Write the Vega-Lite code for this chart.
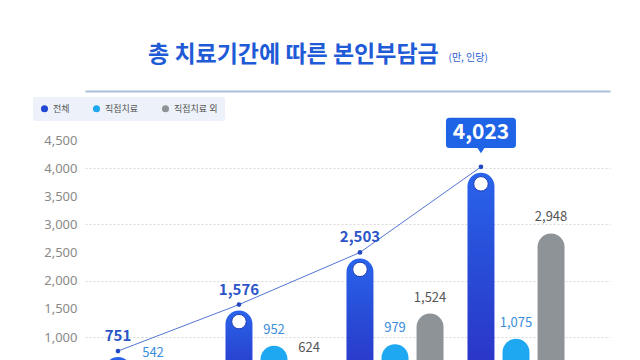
{
  "$schema": "https://vega.github.io/schema/vega-lite/v6.json",
  "autosize": {"type": "none"},
  "padding": {"left": 85, "right": 30, "top": 130, "bottom": 0},
  "width": 525,
  "height": 230,
  "background": "white",
  "title": {
    "text": "총 치료기간에 따른 본인부담금",
    "font": "Noto Sans CJK KR",
    "fontSize": 23,
    "fontWeight": "bold",
    "color": "#1f5bd6",
    "anchor": "start",
    "frame": "group",
    "dx": 63,
    "offset": -15
  },
  "config": {
    "view": {"stroke": null},
    "font": "Noto Sans CJK KR"
  },
  "data": {
    "values": [
      {"group": "1개월 이하", "series": "전체", "value": 751},
      {"group": "1개월 이하", "series": "직접치료", "value": 542},
      {"group": "1개월 이하", "series": "직접치료 외", "value": 209},
      {"group": "1~3개월", "series": "전체", "value": 1576},
      {"group": "1~3개월", "series": "직접치료", "value": 952},
      {"group": "1~3개월", "series": "직접치료 외", "value": 624},
      {"group": "3~6개월", "series": "전체", "value": 2503},
      {"group": "3~6개월", "series": "직접치료", "value": 979},
      {"group": "3~6개월", "series": "직접치료 외", "value": 1524},
      {"group": "6개월 초과", "series": "전체", "value": 4023},
      {"group": "6개월 초과", "series": "직접치료", "value": 1075},
      {"group": "6개월 초과", "series": "직접치료 외", "value": 2948}
    ]
  },
  "encoding": {
    "x": {
      "field": "group",
      "type": "nominal",
      "sort": null,
      "scale": {"paddingInner": 0.198, "paddingOuter": 0.2685, "align": 0.3},
      "axis": {
        "orient": "top",
        "labels": false,
        "ticks": false,
        "title": null,
        "grid": false,
        "domain": true,
        "domainColor": "#a9bfe0",
        "domainWidth": 2,
        "offset": 39
      }
    },
    "xOffset": {
      "field": "series",
      "type": "nominal",
      "scale": {"domain": ["전체", "직접치료", "직접치료 외"], "paddingInner": 0.23, "paddingOuter": 0}
    },
    "y": {
      "field": "value",
      "type": "quantitative",
      "scale": {"domain": [592, 4678], "nice": false, "zero": false},
      "axis": {
        "values": [1000, 1500, 2000, 2500, 3000, 3500, 4000, 4500],
        "labelExpr": "format(datum.value, ',.0f')",
        "labelColor": "#8a8a8a",
        "labelFontSize": 13,
        "labelFont": "Noto Sans",
        "labelPadding": 8,
        "ticks": false,
        "domain": false,
        "grid": true,
        "gridColor": "#d9d9d9",
        "gridDash": [2, 2],
        "gridOpacity": {"condition": {"test": "datum.value % 1000 === 0", "value": 1}, "value": 0},
        "title": "(만, 인당)",
        "titleAngle": 0,
        "titleX": 363,
        "titleY": -73,
        "titleAlign": "left",
        "titleBaseline": "middle",
        "titleFontSize": 10,
        "titleFontWeight": "normal",
        "titleColor": "#2a5bd0"
      }
    }
  },
  "layer": [
    {
      "transform": [{"filter": "datum.series === '전체'"}],
      "mark": {
        "type": "bar",
        "clip": true,
        "cornerRadiusEnd": 13.5,
        "yOffset": 6,
        "color": {
          "gradient": "linear", "x1": 0, "y1": 0, "x2": 0, "y2": 1,
          "stops": [{"offset": 0, "color": "#2a64ec"}, {"offset": 0.35, "color": "#2850da"}, {"offset": 1, "color": "#2c2fc4"}]
        }
      },
      "encoding": {"y2": {"datum": 0}}
    },
    {
      "transform": [{"filter": "datum.series !== '전체'"}],
      "mark": {"type": "bar", "clip": true, "cornerRadiusEnd": 13.5, "yOffset": 6},
      "encoding": {
        "y2": {"datum": 0},
        "color": {
          "field": "series",
          "type": "nominal",
          "scale": {"domain": ["전체", "직접치료", "직접치료 외"], "range": ["#2347d5", "#1fa8f2", "#8e9398"]},
          "legend": {
            "orient": "none",
            "legendX": -52,
            "legendY": -33,
            "direction": "horizontal",
            "title": null,
            "fillColor": "#edf2fa",
            "padding": 7,
            "cornerRadius": 2,
            "symbolType": "circle",
            "symbolSize": 50,
            "labelFontSize": 9,
            "labelColor": "#555555",
            "columnPadding": 22
          }
        }
      }
    },
    {
      "transform": [{"filter": "datum.series === '전체'"}],
      "mark": {"type": "line", "color": "#5576d2", "strokeWidth": 1},
      "encoding": {}
    },
    {
      "transform": [{"filter": "datum.series === '전체'"}],
      "mark": {"type": "point", "filled": true, "size": 22, "color": "#2448c4", "opacity": 1},
      "encoding": {}
    },
    {
      "transform": [{"filter": "datum.series === '전체'"}],
      "mark": {"type": "point", "filled": true, "size": 210, "fill": "white", "stroke": "#1d3cb5", "strokeWidth": 1, "opacity": 1, "yOffset": 17, "clip": true},
      "encoding": {}
    },
    {
      "transform": [{"filter": "datum.series === '전체' && datum.group !== '6개월 초과'"}],
      "mark": {"type": "text", "baseline": "bottom", "dy": -7, "fontSize": 15, "fontWeight": 600, "color": "#2b55c8"},
      "encoding": {"text": {"field": "value", "type": "quantitative", "format": ","}}
    },
    {
      "transform": [{"filter": "datum.series === '전체' && datum.group === '6개월 초과'"}],
      "mark": {
        "type": "point",
        "filled": true,
        "opacity": 1,
        "size": 4900,
        "color": "#1f63e6",
        "yOffset": -34,
        "shape": "M-0.9,-0.43 L0.9,-0.43 Q1,-0.43 1,-0.33 L1,0.33 Q1,0.43 0.9,0.43 L0.1,0.43 L0,0.58 L-0.1,0.43 L-0.9,0.43 Q-1,0.43 -1,0.33 L-1,-0.33 Q-1,-0.43 -0.9,-0.43 Z"
      },
      "encoding": {}
    },
    {
      "transform": [{"filter": "datum.series === '전체' && datum.group === '6개월 초과'"}],
      "mark": {"type": "text", "baseline": "middle", "yOffset": -34, "fontSize": 21, "fontWeight": "bold", "color": "white"},
      "encoding": {"text": {"field": "value", "type": "quantitative", "format": ","}}
    },
    {
      "transform": [{"filter": "datum.series === '직접치료'"}],
      "mark": {"type": "text", "baseline": "bottom", "dy": -3, "fontSize": 13, "color": "#3a8ddc"},
      "encoding": {"text": {"field": "value", "type": "quantitative", "format": ","}}
    },
    {
      "transform": [{"filter": "datum.series === '직접치료 외'"}],
      "mark": {"type": "text", "baseline": "bottom", "dy": -3, "fontSize": 13, "color": "#555555"},
      "encoding": {"text": {"field": "value", "type": "quantitative", "format": ","}}
    }
  ]
}
